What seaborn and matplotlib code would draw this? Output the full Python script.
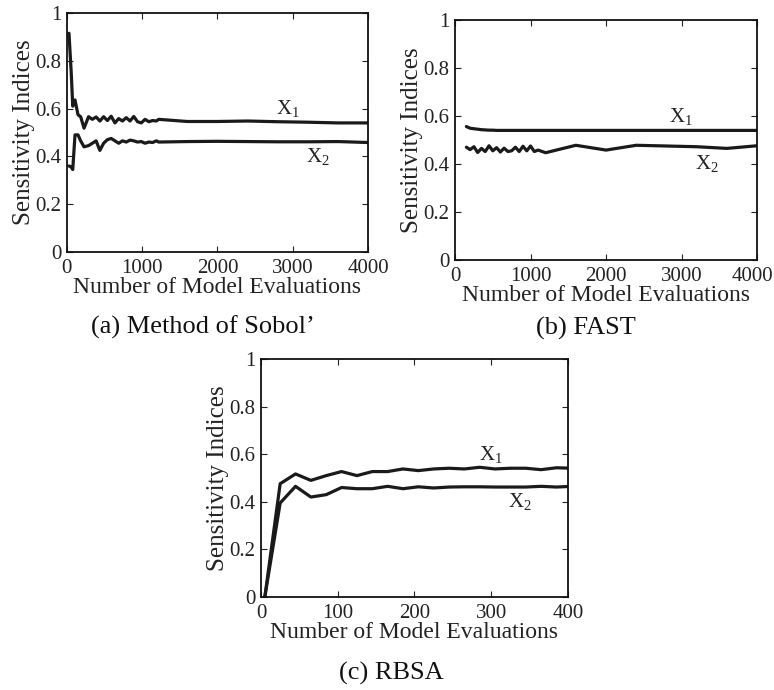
import numpy as np
import pandas as pd
import matplotlib
matplotlib.use('Agg')
import matplotlib.pyplot as plt
import matplotlib.transforms as mtransforms
import seaborn as sns

# (a) Method of Sobol'
sobol_n = [30, 60, 80, 110, 150, 185, 230, 290, 340, 390, 440, 490, 540, 590, 640, 690,
           740, 790, 840, 890, 940, 990, 1040, 1090, 1140, 1190, 1220,
           1600, 2000, 2400, 2800, 3200, 3600, 4000]
sobol_x1 = [0.915, 0.75, 0.61, 0.636, 0.574, 0.566, 0.518, 0.566, 0.555, 0.565, 0.548, 0.566,
            0.55, 0.568, 0.54, 0.558, 0.548, 0.562, 0.548, 0.567, 0.545, 0.54, 0.555, 0.545,
            0.55, 0.548, 0.555, 0.546, 0.546, 0.548, 0.545, 0.543, 0.54, 0.54]
sobol_x2 = [0.36, 0.355, 0.345, 0.49, 0.49, 0.465, 0.44, 0.445, 0.455, 0.465, 0.425, 0.455,
            0.47, 0.475, 0.465, 0.455, 0.465, 0.46, 0.468, 0.465, 0.46, 0.462, 0.455, 0.46,
            0.458, 0.465, 0.46, 0.462, 0.463, 0.462, 0.461, 0.461, 0.462, 0.458]

# (b) FAST
fast_n = [150, 200, 250, 300, 350, 400, 450, 500, 550, 600, 650, 700, 750, 800, 850, 900,
          950, 1000, 1050, 1100, 1200, 1600, 2000, 2400, 2800, 3200, 3600, 4000]
fast_x1 = [0.556, 0.549, 0.547, 0.545, 0.543, 0.542, 0.541, 0.541, 0.54, 0.54, 0.54, 0.54,
           0.54, 0.54, 0.54, 0.54, 0.54, 0.54, 0.54, 0.54, 0.54, 0.54, 0.54, 0.54, 0.54,
           0.54, 0.54, 0.54]
fast_x2 = [0.47, 0.46, 0.472, 0.448, 0.465, 0.452, 0.476, 0.455, 0.468, 0.45, 0.466, 0.452,
           0.455, 0.47, 0.452, 0.474, 0.455, 0.475, 0.452, 0.458, 0.447, 0.478, 0.458,
           0.478, 0.475, 0.472, 0.465, 0.476]

# (c) RBSA
rbsa_n = [5, 25, 45, 65, 85, 105, 125, 145, 165, 185, 205, 225, 245, 265, 285, 305, 325,
          345, 365, 385, 405]
rbsa_x1 = [0.0, 0.476, 0.517, 0.49, 0.51, 0.527, 0.51, 0.527, 0.527, 0.538, 0.531, 0.538,
           0.541, 0.538, 0.545, 0.538, 0.541, 0.541, 0.535, 0.543, 0.541]
rbsa_x2 = [0.0, 0.395, 0.465, 0.42, 0.43, 0.46, 0.455, 0.455, 0.465, 0.455, 0.463, 0.458,
           0.462, 0.463, 0.463, 0.462, 0.462, 0.462, 0.465, 0.462, 0.465]

sns.set_style('ticks')
plt.rcParams['font.family'] = ['Liberation Serif', 'DejaVu Serif']
plt.rcParams['mathtext.fontset'] = 'custom'
plt.rcParams['mathtext.rm'] = 'Liberation Serif'
plt.rcParams['mathtext.it'] = 'Liberation Serif:italic'

fig = plt.figure(figsize=(7.74, 6.9), dpi=100)

panels = [
    ([0.0862, 0.6348, 0.3893, 0.3464], sobol_n, sobol_x1, sobol_x2, 4000,
     [0, 1000, 2000, 3000, 4000], (2940, 0.6), (3330, 0.40), "(a) Method of Sobol\u2019", (0.2623, 0.526)),
    ([0.5879, 0.6232, 0.3902, 0.3478], fast_n, fast_x1, fast_x2, 4000,
     [0, 1000, 2000, 3000, 4000], (2990, 0.6), (3340, 0.40), "(b) FAST", (0.757, 0.5246)),
    ([0.3372, 0.1348, 0.3966, 0.3449], rbsa_n, rbsa_x1, rbsa_x2, 400,
     [0, 100, 200, 300, 400], (300, 0.6), (337, 0.40), "(c) RBSA", (0.505, 0.0246)),
]

for i, (rect, n, x1, x2, xmax, xt, p1, p2, cap, cpos) in enumerate(panels):
    ax = fig.add_axes(rect)
    df = pd.DataFrame({'n': n + n, 'S': x1 + x2,
                       'var': ['X1'] * len(n) + ['X2'] * len(n)})
    sns.lineplot(data=df, x='n', y='S', units='var', estimator=None,
                 color='#1a1a1a', lw=2.3, ax=ax, legend=False)
    ax.set_xlim(0, xmax)
    ax.set_ylim(0, 1)
    ax.set_xticks(xt)
    ax.set_xticklabels([str(v) for v in xt])
    ax.set_yticks([0, 0.2, 0.4, 0.6, 0.8, 1])
    ax.set_yticklabels(['0', '0.2', '0.4', '0.6', '0.8', '1'])
    ax.tick_params(direction='in', top=True, right=True, length=4, width=0.8,
                   labelsize=15, colors='#222222')
    ax.tick_params(axis='x', pad=5)
    ax.tick_params(axis='y', pad=4)
    if i == 1:
        # keep the last label inside the figure edge
        lab = ax.get_xticklabels()[-1]
        lab.set_transform(lab.get_transform() +
                          mtransforms.ScaledTranslation(-5 / 100, 0, fig.dpi_scale_trans))
    for s in ax.spines.values():
        s.set_linewidth(1.3)
        s.set_color('#111111')
    ax.set_xlabel('Number of Model Evaluations', fontsize=17, labelpad=-1, color='#222222')
    ax.set_ylabel('Sensitivity Indices', fontsize=18, labelpad=0, color='#222222')
    ax.text(p1[0], p1[1], 'X$_1$', fontsize=15, ha='center', va='center', color='#222222')
    ax.text(p2[0], p2[1], 'X$_2$', fontsize=15, ha='center', va='center', color='#222222')
    fig.text(cpos[0], cpos[1], cap, fontsize=19, ha='center', va='center', color='#111111')

fig.savefig('out.png', dpi=100)
